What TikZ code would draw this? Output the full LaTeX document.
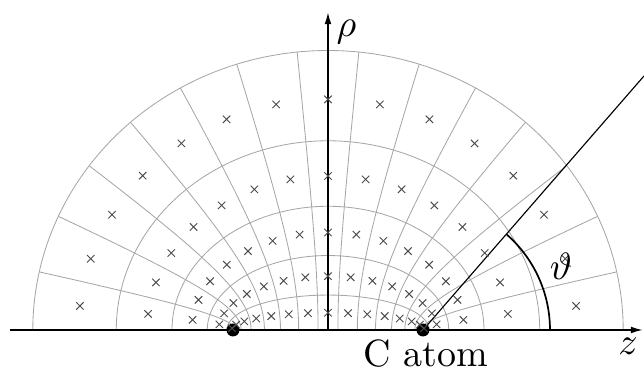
\documentclass[tikz,border=0pt]{standalone}
\usetikzlibrary{shapes.misc,arrows.meta}
\begin{document}
\begin{tikzpicture}[x=0.2632pt,y=0.2632pt,
  gridline/.style={black!35, line width=0.22pt},
  xmark/.style={cross out, draw=black!70, line width=0.25pt, minimum size=1.7pt, inner sep=0pt},
  axis/.style={line width=0.45pt, -{Latex[length=3.2pt,width=1.8pt]}},
  atom/.style={circle, fill=black, minimum size=3.4pt, inner sep=0pt},
  lbl/.style={inner sep=0pt}
]
\useasboundingbox (-328,-40) rectangle (316,330);
% confocal ellipses
\foreach \m in {0.36,0.72,1.08,1.44,1.8}
  \draw[gridline] plot[domain=0:180, samples=121, variable=\t, smooth]
    ({95*cosh(\m)*cos(\t)},{95*sinh(\m)*sin(\t)});
% confocal hyperbolas
\foreach \k in {1,...,14}
  \draw[gridline] plot[domain=0:1.8, samples=40, variable=\u, smooth]
    ({95*cosh(\u)*cos(12*\k)},{95*sinh(\u)*sin(12*\k)});
% axes
\coordinate (zs) at (-318,0);
\coordinate (ze) at (315,0);
\coordinate (ro) at (0,0);
\coordinate (re) at (0,318);
\draw[axis] (zs) -- (ze);
\draw[axis] (ro) -- (re);
% atoms
\node[atom] (atomL) at (-95,0) {};
\node[atom] (atomR) at (95,0) {};
% angle line and arc
\coordinate (thetaend) at (316,254);
\draw[line width=0.3pt] (atomR.center) -- (thetaend);
\draw[line width=0.45pt] (atomR.center) ++(127,0) arc[start angle=0, end angle=49, radius=127];
% grid points
\foreach \j in {0,...,4}
  \foreach \k in {0,...,14}
    \node[xmark] (p\j-\k) at ({95*cosh(0.18+0.36*\j)*cos(6+12*\k)},{95*sinh(0.18+0.36*\j)*sin(6+12*\k)}) {};
% labels
\node[lbl] (rholbl) at (18.5,297.5) {$\rho$};
\node[lbl] (zlbl) at (300,-16) {$z$};
\node[lbl] (thlbl) at (233,63.5) {$\vartheta$};
\node[lbl, anchor=base west] (clbl) at (35,-37) {C atom};
\end{tikzpicture}
\end{document}
